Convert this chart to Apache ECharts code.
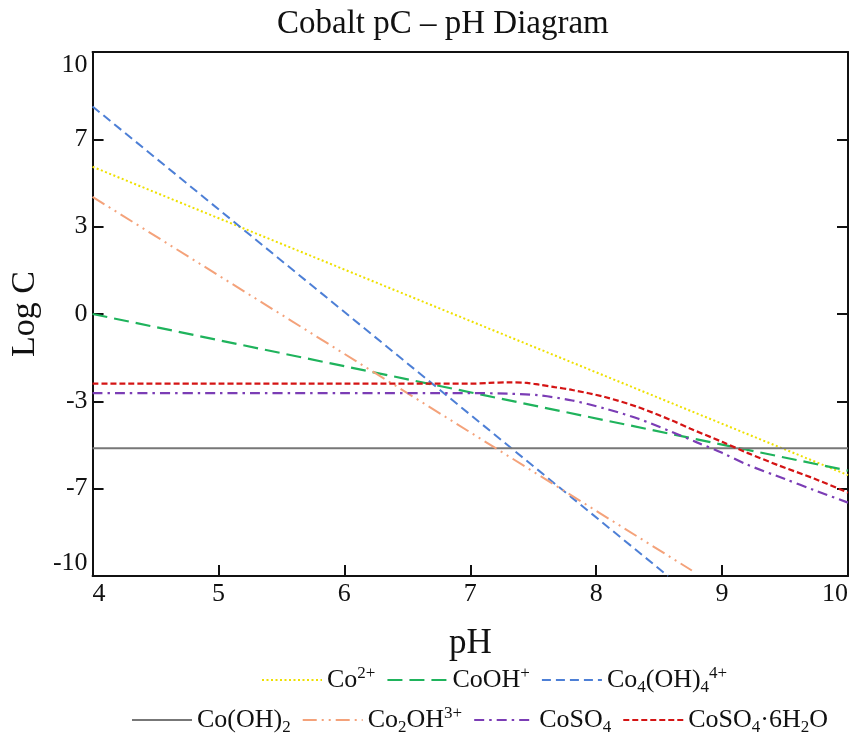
<!DOCTYPE html>
<html>
<head>
<meta charset="utf-8">
<script src="https://cdn.jsdelivr.net/npm/echarts@6/dist/echarts.min.js"></script>
<style>html,body{margin:0;padding:0;background:#fff}#c{width:854px;height:738px}</style>
</head>
<body>
<div id="c"></div>
<script>
// ---- data ----
const seriesNames = ['Co2+', 'CoOH+', 'Co4(OH)4 4+', 'Co(OH)2', 'Co2OH3+', 'CoSO4', 'CoSO4·6H2O'];
const co2 = [[4, 5.62], [10, -6.15]];
const cooh = [[4, 0.0], [10, -5.98]];
const co4oh4 = [[4, 7.92], [8.57, -10]];
const cooh2 = [[4, -5.12], [10, -5.12]];
const co2oh = [[4, 4.47], [8.76, -9.79]];
const coso4 = [[4, -3.02], [5, -3.02], [6, -3.02], [7, -3.02], [7.3, -3.04], [7.54, -3.10], [7.81, -3.30],
  [8.07, -3.61], [8.33, -3.99], [8.6, -4.5], [8.8, -4.9], [9.0, -5.3], [9.2, -5.75], [9.5, -6.3], [9.73, -6.72], [10, -7.2]];
const coso4h2o = [[4, -2.66], [5, -2.66], [6, -2.66], [7, -2.66], [7.15, -2.63], [7.3, -2.61], [7.45, -2.63],
  [7.55, -2.70], [7.67, -2.79], [7.81, -2.90], [8.07, -3.17], [8.33, -3.55], [8.6, -4.06], [8.75, -4.38],
  [9.0, -4.88], [9.2, -5.3], [9.45, -5.78], [9.73, -6.28], [10, -6.82]];
const yTickLabels = ['-10', '-7', '-3', '0', '3', '7', '10'];
const xTickLabels = ['4', '5', '6', '7', '8', '9', '10'];

const legendLabels = {
  'Co2+': '{b|Co}{sup|2+}',
  'CoOH+': '{b|CoOH}{sup|+}',
  'Co4(OH)4 4+': '{b|Co}{sub|4}{b|(OH)}{sub|4}{sup|4+}',
  'Co(OH)2': '{b|Co(OH)}{sub|2}',
  'Co2OH3+': '{b|Co}{sub|2}{b|OH}{sup|3+}',
  'CoSO4': '{b|CoSO}{sub|4}',
  'CoSO4·6H2O': '{b|CoSO}{sub|4}{b|·6H}{sub|2}{b|O}'
};

const FONT = 'Liberation Serif';
const chart = echarts.init(document.getElementById('c'));

function mkSeries(name, data, color, dash, width, smooth) {
  return {
    name: name, type: 'line', data: data, symbol: 'none', smooth: smooth || false,
    lineStyle: { color: color, width: width || 2, type: dash },
    itemStyle: { color: color },
    emphasis: { disabled: true }, silent: true, animation: false
  };
}

const richStyles = {
  b: { fontFamily: FONT, fontSize: 26, color: '#111', lineHeight: 32, verticalAlign: 'middle' },
  sup: { fontFamily: FONT, fontSize: 17, color: '#111', verticalAlign: 'top', lineHeight: 32, padding: [1, 0, 0, 0] },
  sub: { fontFamily: FONT, fontSize: 17, color: '#111', verticalAlign: 'bottom', lineHeight: 32 }
};

function mkLegend(names, left, top) {
  return {
    data: names, left: left, top: top, orient: 'horizontal',
    itemWidth: 60, itemHeight: 14, itemGap: 11,
    itemStyle: { opacity: 0 },
    formatter: n => legendLabels[n],
    textStyle: { fontFamily: FONT, fontSize: 26, color: '#111', rich: richStyles },
    selectedMode: false
  };
}

const option = {
  animation: false,
  backgroundColor: '#fff',
  title: {
    text: 'Cobalt pC – pH Diagram', left: 272, top: 3,
    textStyle: { fontFamily: FONT, fontSize: 33, fontWeight: 'normal', color: '#111' }
  },
  legend: [
    mkLegend(seriesNames.slice(0, 3), 256, 659),
    mkLegend(seriesNames.slice(3), 126, 699)
  ],
  grid: { left: 88, right: 6, top: 52, bottom: 162, containLabel: false },
  xAxis: [{
    type: 'value', min: 4, max: 10, interval: 1, position: 'bottom',
    name: 'pH', nameLocation: 'middle', nameGap: 50,
    nameTextStyle: { fontFamily: FONT, fontSize: 35, color: '#111' },
    axisLine: { show: true, onZero: false, lineStyle: { color: '#111', width: 2 } },
    axisTick: { show: true, inside: true, length: 11, lineStyle: { color: '#111', width: 2 } },
    axisLabel: {
      fontFamily: FONT, fontSize: 26, color: '#111', margin: 5,
      formatter: (v, i) => xTickLabels[i],
      alignMinLabel: 'left', alignMaxLabel: 'right'
    },
    splitLine: { show: false }
  }, {
    type: 'value', min: 4, max: 10, interval: 1, position: 'top',
    axisLine: { show: true, onZero: false, lineStyle: { color: '#111', width: 2 } },
    axisTick: { show: false }, axisLabel: { show: false }, splitLine: { show: false }
  }],
  yAxis: [{
    type: 'value', min: -10, max: 10, interval: 20 / 6, position: 'left',
    name: 'Log C', nameLocation: 'middle', nameGap: 40, nameRotate: 90,
    nameTextStyle: { fontFamily: FONT, fontSize: 34, color: '#111' },
    axisLine: { show: true, onZero: false, lineStyle: { color: '#111', width: 2 } },
    axisTick: { show: true, inside: true, length: 11, lineStyle: { color: '#111', width: 2 } },
    axisLabel: {
      fontFamily: FONT, fontSize: 26, color: '#111', margin: 5,
      formatter: (v, i) => yTickLabels[i],
      verticalAlignMinLabel: 'bottom', verticalAlignMaxLabel: 'top'
    },
    splitLine: { show: false }
  }, {
    type: 'value', min: -10, max: 10, interval: 20 / 6, position: 'right',
    axisLine: { show: true, onZero: false, lineStyle: { color: '#111', width: 2 } },
    axisTick: { show: true, inside: true, length: 11, lineStyle: { color: '#111', width: 2 } },
    axisLabel: { show: false }, splitLine: { show: false }
  }],
  series: [
    mkSeries('Co2+', co2, '#eee000', [2, 2.5], 2),
    mkSeries('CoOH+', cooh, '#1fb35c', [15, 7], 2.2),
    mkSeries('Co4(OH)4 4+', co4oh4, '#4d7fd6', [9, 5], 2),
    mkSeries('Co(OH)2', cooh2, '#777777', 'solid', 2),
    mkSeries('Co2OH3+', co2oh, '#f4a27a', [14, 5, 2, 5, 2, 5], 2),
    mkSeries('CoSO4', coso4, '#7b3db5', [10, 5, 2.5, 5], 2.2, 0.3),
    mkSeries('CoSO4·6H2O', coso4h2o, '#d41414', [6, 3], 2.2, 0.3)
  ]
};
chart.setOption(option);
</script>
</body>
</html>
